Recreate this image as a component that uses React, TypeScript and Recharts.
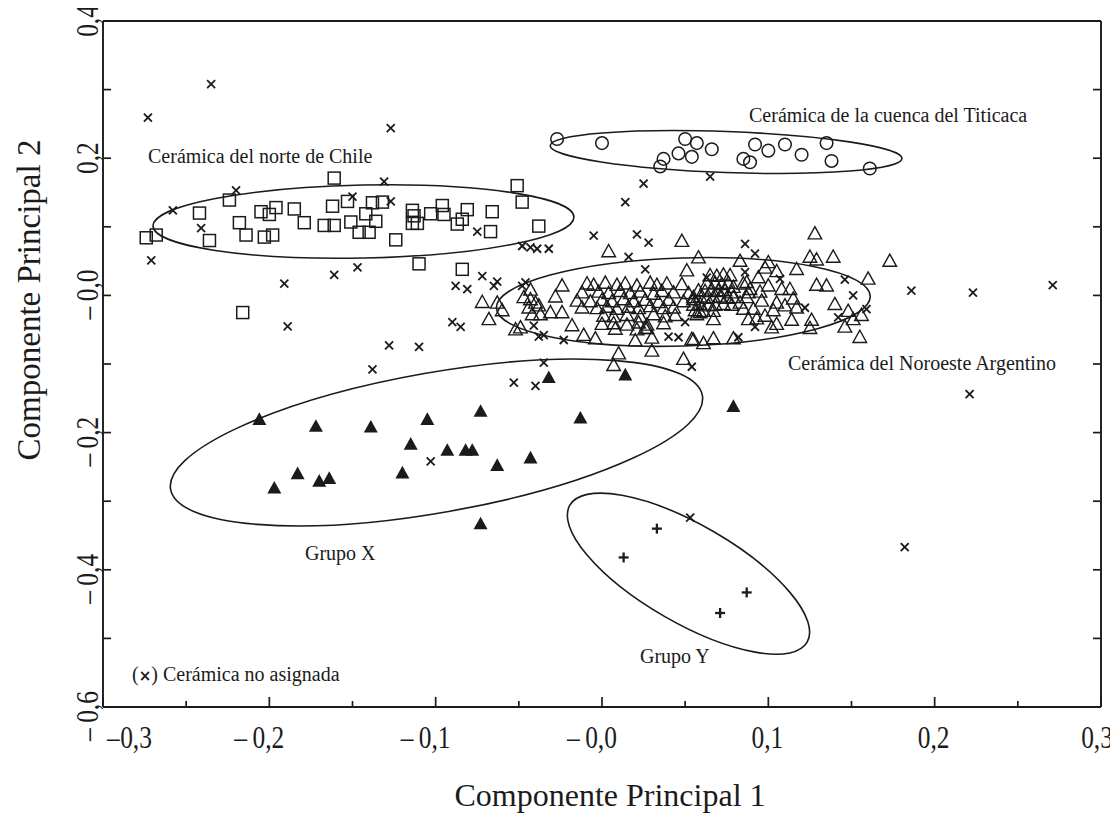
import React from 'react';
import { ScatterChart, Scatter, XAxis, YAxis, ReferenceLine, ReferenceDot, Customized } from 'recharts';

// ---------- data (Componente Principal 1, Componente Principal 2) ----------
const chileNorte: number[][] = [
  [-0.274, 0.084], [-0.268, 0.088], [-0.242, 0.120], [-0.236, 0.080], [-0.224, 0.139], [-0.218, 0.106],
  [-0.214, 0.088], [-0.205, 0.122], [-0.200, 0.118], [-0.196, 0.128], [-0.203, 0.085], [-0.198, 0.088],
  [-0.185, 0.126], [-0.179, 0.106], [-0.167, 0.102], [-0.161, 0.102], [-0.162, 0.130], [-0.161, 0.171],
  [-0.153, 0.137], [-0.151, 0.107], [-0.146, 0.092], [-0.140, 0.092], [-0.142, 0.119], [-0.138, 0.135],
  [-0.132, 0.136], [-0.136, 0.108], [-0.124, 0.081], [-0.114, 0.124], [-0.113, 0.116], [-0.114, 0.105],
  [-0.111, 0.105], [-0.103, 0.119], [-0.096, 0.131], [-0.095, 0.118], [-0.081, 0.125], [-0.084, 0.111],
  [-0.087, 0.104], [-0.066, 0.122], [-0.051, 0.160], [-0.048, 0.136], [-0.067, 0.093], [-0.038, 0.101],
  [-0.110, 0.046], [-0.084, 0.038], [-0.216, -0.025],
];

const titicaca: number[][] = [
  [-0.027, 0.228], [0.000, 0.222], [0.050, 0.228], [0.057, 0.222], [0.046, 0.207], [0.054, 0.202],
  [0.037, 0.199], [0.035, 0.188], [0.066, 0.213], [0.092, 0.220], [0.100, 0.211], [0.110, 0.220],
  [0.085, 0.199], [0.089, 0.194], [0.120, 0.205], [0.135, 0.222], [0.138, 0.196], [0.161, 0.185],
];

const noroeste: number[][] = [
  [0.004, 0.064], [0.048, 0.079], [0.051, 0.036], [0.058, 0.055], [-0.024, 0.014],
  [0.128, 0.090], [0.125, 0.056], [0.129, 0.052], [0.139, 0.056], [0.173, 0.050], [0.160, 0.024], [0.129, 0.015], [0.135, 0.014],
  [0.083, 0.050], [0.100, 0.048], [0.098, 0.040], [0.105, 0.035], [0.117, 0.038], [0.094, 0.026], [0.100, 0.014],
  [0.108, 0.009], [0.113, 0.009], [0.087, 0.019], [0.089, 0.009],
  [-0.072, -0.010], [-0.063, -0.011], [-0.060, -0.022], [-0.068, -0.035], [-0.052, -0.050], [-0.049, -0.047],
  [-0.043, 0.008], [-0.047, -0.003], [-0.043, -0.006], [-0.040, -0.011], [-0.038, -0.015], [-0.044, -0.018],
  [-0.042, -0.028], [-0.037, -0.028], [-0.031, -0.025], [-0.024, -0.025], [-0.028, -0.002], [-0.018, -0.044],
  [-0.011, -0.058], [-0.004, -0.063], [0.010, -0.085], [0.007, -0.102], [0.020, -0.066], [0.030, -0.062],
  [0.030, -0.081], [0.027, -0.048], [0.049, -0.093], [0.054, -0.064],
  [-0.009, 0.017], [-0.005, 0.015], [0.002, 0.018], [0.009, 0.015], [0.014, 0.017], [0.021, 0.014], [0.029, 0.018],
  [0.033, 0.015], [0.039, 0.017], [0.048, 0.016],
  [-0.012, 0.004], [-0.002, 0.005], [0.004, 0.003], [0.011, 0.006], [0.017, 0.003], [0.023, 0.005], [0.031, 0.002],
  [0.036, 0.006], [0.043, 0.004], [0.052, 0.003],
  [-0.015, -0.008], [-0.007, -0.009], [0.000, -0.007], [0.006, -0.009], [0.013, -0.006], [0.019, -0.009],
  [0.026, -0.007], [0.034, -0.010], [0.040, -0.007], [0.049, -0.009], [0.055, -0.006],
  [-0.012, -0.018], [-0.003, -0.019], [0.003, -0.017], [0.009, -0.020], [0.016, -0.017], [0.022, -0.019],
  [0.029, -0.016], [0.037, -0.019], [0.043, -0.018],
  [0.001, -0.030], [0.007, -0.031], [0.015, -0.029], [0.023, -0.031], [0.031, -0.028], [0.038, -0.031], [0.044, -0.029],
  [0.000, -0.042], [0.007, -0.041], [0.015, -0.043], [0.022, -0.040], [0.027, -0.043], [0.037, -0.041],
  [0.008, -0.049], [0.021, -0.050], [0.026, -0.048],
  [0.140, -0.013], [0.148, -0.023], [0.156, -0.029], [0.151, -0.035], [0.146, -0.046], [0.155, -0.061],
  [0.126, -0.036], [0.125, -0.048], [0.114, -0.036], [0.115, -0.005], [0.117, -0.018], [0.110, -0.015],
  [0.105, -0.011], [0.103, -0.022], [0.105, -0.042], [0.102, -0.047],
  [0.096, -0.008], [0.091, -0.020], [0.098, -0.030], [0.093, -0.034], [0.088, -0.035], [0.085, -0.020],
  [0.083, -0.011], [0.079, -0.063], [0.067, -0.063], [0.061, -0.070], [0.055, -0.065], [0.067, -0.035],
  [0.067, -0.023], [0.059, -0.025], [0.056, -0.022], [0.088, 0.004], [0.085, 0.017], [0.087, -0.003], [0.095, 0.005],
  [0.065, 0.029], [0.069, 0.028], [0.073, 0.030], [0.077, 0.029],
  [0.063, 0.017], [0.068, 0.018], [0.072, 0.016], [0.076, 0.018], [0.079, 0.012],
  [0.058, 0.007], [0.062, 0.006], [0.066, 0.008], [0.070, 0.006], [0.074, 0.007], [0.078, 0.004],
  [0.055, -0.003], [0.059, -0.002], [0.063, -0.004], [0.067, -0.003], [0.071, -0.002], [0.075, -0.004], [0.079, -0.003],
  [0.055, -0.014], [0.059, -0.013], [0.064, -0.015], [0.068, -0.014], [0.073, -0.013], [0.078, -0.014],
  [0.061, -0.023], [0.057, -0.028],
];

const grupoX: number[][] = [
  [-0.206, -0.181], [-0.172, -0.191], [-0.139, -0.192], [-0.105, -0.181], [-0.073, -0.169], [-0.032, -0.120],
  [-0.115, -0.217], [-0.093, -0.226], [-0.082, -0.226], [-0.078, -0.226], [-0.063, -0.248], [-0.043, -0.237],
  [-0.120, -0.259], [-0.183, -0.260], [-0.197, -0.281], [-0.170, -0.271], [-0.164, -0.267], [-0.073, -0.333],
  [0.014, -0.116], [0.079, -0.162], [-0.013, -0.179],
];

const grupoY: number[][] = [
  [0.033, -0.340], [0.013, -0.382], [0.087, -0.433], [0.071, -0.463],
];

const noAsignada: number[][] = [
  [-0.235, 0.308], [-0.273, 0.259], [-0.127, 0.244], [-0.220, 0.153], [-0.258, 0.124], [-0.131, 0.166],
  [-0.150, 0.144], [-0.127, 0.137], [-0.241, 0.098], [-0.271, 0.051], [-0.191, 0.017], [-0.161, 0.030],
  [-0.147, 0.041],
  [-0.075, 0.093], [-0.048, 0.072], [-0.043, 0.070], [-0.039, 0.068], [-0.032, 0.068], [0.025, 0.163],
  [0.014, 0.136], [-0.005, 0.087], [0.021, 0.089], [0.028, 0.077], [0.016, 0.056], [0.026, 0.038],
  [-0.072, 0.028], [-0.088, 0.014], [-0.081, 0.009], [-0.063, 0.020], [-0.065, 0.014], [-0.046, 0.019], [-0.048, 0.014],
  [0.065, 0.173], [0.086, 0.075], [0.092, 0.061], [0.086, 0.034], [0.107, 0.024], [0.146, 0.023], [0.151, 0.000],
  [0.186, 0.007], [0.223, 0.004], [0.271, 0.015],
  [-0.128, -0.073], [-0.110, -0.075], [-0.138, -0.108], [-0.035, -0.098], [-0.053, -0.127], [-0.040, -0.132],
  [-0.103, -0.242], [-0.038, -0.060], [-0.035, -0.058], [-0.189, -0.045], [-0.090, -0.039], [-0.085, -0.046],
  [-0.041, -0.044], [-0.023, -0.065], [0.040, -0.060], [0.046, -0.061], [0.050, -0.039], [0.054, -0.104],
  [0.063, 0.026], [0.159, -0.020], [0.122, -0.018], [0.142, -0.032], [0.092, -0.046], [0.082, -0.061],
  [0.053, -0.324], [0.221, -0.144], [0.182, -0.367],
];

// group ellipses: centre in data units
const ellipseCentres: number[][] = [
  [-0.1434, 0.1077], // norte de Chile
  [0.0746, 0.209], // Titicaca
  [0.0489, -0.0096], // Noroeste Argentino
  [-0.0995, -0.2144], // Grupo X
  [0.052, -0.4057], // Grupo Y
];

const xTicks = [-0.3, -0.25, -0.2, -0.15, -0.1, -0.05, 0, 0.05, 0.1, 0.15, 0.2, 0.25, 0.3];
const yTicks = [-0.6, -0.5, -0.4, -0.3, -0.2, -0.1, 0, 0.1, 0.2, 0.3, 0.4];

// ---------- layout / style (page coordinates; wrapper cancels body margin) ----------
const W = 1118;
const H = 820;
const PLOT_L = 103;
const PLOT_R = 1101;
const PLOT_T = 21;
const PLOT_B = 707;
const INK = '#1b1b1b';
const FONT = '"Liberation Serif", "DejaVu Serif", serif';
const ellipseShapes = [
  { rx: 210.5, ry: 36.5, angle: -1.2 },
  { rx: 176, ry: 20.5, angle: 2.1 },
  { rx: 187, ry: 44, angle: -1.8 },
  { rx: 270, ry: 70, angle: -10 },
  { rx: 137, ry: 49, angle: 30 },
];

const toPts = (a: number[][]) => a.map(([x, y]) => ({ x, y }));
const isMajor = (v: number, step: number) => Math.abs(v / step - Math.round(v / step)) < 1e-6;
const fmt = (v: number) => Math.abs(v).toFixed(1).replace('.', ',');

const SquareM = (p: any) => (
  <rect x={p.cx - 6} y={p.cy - 6} width={12} height={12} fill="none" stroke={INK} strokeWidth={1.5} />
);
const CircleM = (p: any) => <circle cx={p.cx} cy={p.cy} r={6.3} fill="none" stroke={INK} strokeWidth={1.5} />;
const TriOpenM = (p: any) => (
  <path
    d={`M${p.cx},${p.cy - 7} L${p.cx + 6.8},${p.cy + 5.2} L${p.cx - 6.8},${p.cy + 5.2} Z`}
    fill="none"
    stroke={INK}
    strokeWidth={1.4}
  />
);
const TriFillM = (p: any) => (
  <path d={`M${p.cx},${p.cy - 7.2} L${p.cx + 7},${p.cy + 5.4} L${p.cx - 7},${p.cy + 5.4} Z`} fill={INK} />
);
const CrossM = (p: any) => (
  <g stroke={INK} strokeWidth={1.8}>
    <line x1={p.cx - 4} y1={p.cy - 4} x2={p.cx + 4} y2={p.cy + 4} />
    <line x1={p.cx - 4} y1={p.cy + 4} x2={p.cx + 4} y2={p.cy - 4} />
  </g>
);
const PlusM = (p: any) => (
  <g stroke={INK} strokeWidth={2.3}>
    <line x1={p.cx - 5} y1={p.cy} x2={p.cx + 5} y2={p.cy} />
    <line x1={p.cx} y1={p.cy - 5} x2={p.cx} y2={p.cy + 5} />
  </g>
);

const XTick = (props: any) => {
  const { x, payload } = props;
  const v = payload.value as number;
  const major = isMajor(v, 0.1);
  const len = major ? 10 : 6;
  const first = Math.abs(v + 0.3) < 1e-9;
  const last = Math.abs(v - 0.3) < 1e-9;
  const cx = first ? x + 33 : last ? x - 4 : x - 1;
  return (
    <g>
      <line x1={x} x2={x} y1={PLOT_B} y2={PLOT_B - len} stroke={INK} strokeWidth={1.7} />
      {major && (
        <g transform={`translate(${cx}, ${PLOT_B + 41}) scale(0.82, 1)`} fill={INK} fontFamily={FONT} fontSize={31}>
          <text x={0} y={0} textAnchor="middle">{fmt(v)}</text>
          {v <= 0 && <text x={first ? -20 : -26} y={0} textAnchor="end">–</text>}
        </g>
      )}
    </g>
  );
};

const YTick = (props: any) => {
  const { y, payload } = props;
  const v = payload.value as number;
  const label = isMajor(v, 0.2);
  const cy = Math.abs(v) < 1e-9 ? y - 10 : y;
  return (
    <g>
      <line x1={PLOT_L} x2={PLOT_L + 8} y1={y} y2={y} stroke={INK} strokeWidth={1.7} />
      <line x1={PLOT_R} x2={PLOT_R - 8} y1={y} y2={y} stroke={INK} strokeWidth={1.7} />
      {label && (
        <g transform={`translate(98, ${cy}) rotate(-90) scale(0.82, 1)`} fill={INK} fontFamily={FONT} fontSize={31}>
          <text x={0} y={0} textAnchor="middle">{fmt(v)}</text>
          {v <= 0 && <text x={-26} y={0} textAnchor="end">–</text>}
        </g>
      )}
    </g>
  );
};

const Annotations = () => (
  <g fill={INK} fontFamily={FONT}>
    <text x={148} y={163} fontSize={20}>Cerámica del norte de Chile</text>
    <text x={749} y={122} fontSize={20}>Cerámica de la cuenca del Titicaca</text>
    <text x={788} y={370} fontSize={20}>Cerámica del Noroeste Argentino</text>
    <text x={305} y={560} fontSize={20}>Grupo X</text>
    <text x={640} y={663} fontSize={20}>Grupo Y</text>
    <text x={132} y={681} fontSize={20}>(<tspan fontFamily='"DejaVu Sans", sans-serif' fontSize={15} fontWeight="bold">×</tspan>) Cerámica no asignada</text>
    <text x={610} y={806} fontSize={32} textAnchor="middle">Componente Principal 1</text>
    <text x={40} y={300} fontSize={33} textAnchor="middle" transform="rotate(-90, 40, 300)">Componente Principal 2</text>
  </g>
);

export default function App() {
  return (
    <div style={{ width: W, height: H, marginLeft: -8, marginTop: -8 }}>
      <ScatterChart width={W} height={H} margin={{ top: PLOT_T, right: W - PLOT_R, bottom: 0, left: 0 }}>
        <XAxis
          type="number"
          dataKey="x"
          domain={[-0.3, 0.3]}
          ticks={xTicks}
          interval={0}
          allowDataOverflow
          height={H - PLOT_B}
          tickLine={false}
          axisLine={{ stroke: INK, strokeWidth: 1.9 }}
          tick={(p: any) => <XTick {...p} />}
        />
        <YAxis
          type="number"
          dataKey="y"
          domain={[-0.6, 0.4]}
          ticks={yTicks}
          interval={0}
          allowDataOverflow
          width={PLOT_L}
          tickLine={false}
          axisLine={{ stroke: INK, strokeWidth: 1.9 }}
          tick={(p: any) => <YTick {...p} />}
        />
        <ReferenceLine y={0.4} stroke={INK} strokeWidth={1.9} ifOverflow="visible" />
        <ReferenceLine x={0.3} stroke={INK} strokeWidth={1.9} ifOverflow="visible" />
        {ellipseCentres.map(([ex, ey], i) => (
          <ReferenceDot
            key={i}
            x={ex}
            y={ey}
            r={1}
            ifOverflow="visible"
            shape={(p: any) => (
              <ellipse
                cx={p.cx}
                cy={p.cy}
                rx={ellipseShapes[i].rx}
                ry={ellipseShapes[i].ry}
                transform={`rotate(${ellipseShapes[i].angle} ${p.cx} ${p.cy})`}
                fill="none"
                stroke={INK}
                strokeWidth={1.6}
              />
            )}
          />
        ))}
        <Scatter data={toPts(noAsignada)} shape={CrossM} isAnimationActive={false} />
        <Scatter data={toPts(chileNorte)} shape={SquareM} isAnimationActive={false} />
        <Scatter data={toPts(titicaca)} shape={CircleM} isAnimationActive={false} />
        <Scatter data={toPts(noroeste)} shape={TriOpenM} isAnimationActive={false} />
        <Scatter data={toPts(grupoX)} shape={TriFillM} isAnimationActive={false} />
        <Scatter data={toPts(grupoY)} shape={PlusM} isAnimationActive={false} />
        <Customized component={Annotations} />
      </ScatterChart>
    </div>
  );
}
